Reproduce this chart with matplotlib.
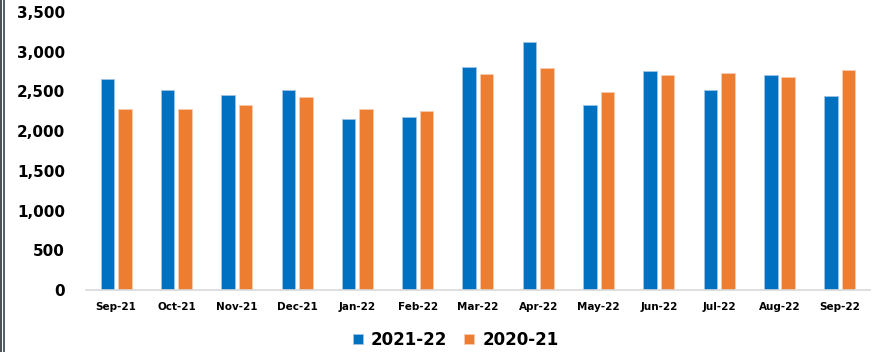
import matplotlib
matplotlib.use("Agg")
import matplotlib.pyplot as plt
import numpy as np
from matplotlib.lines import Line2D
from matplotlib.ticker import FuncFormatter

months = ["Sep-21", "Oct-21", "Nov-21", "Dec-21", "Jan-22", "Feb-22", "Mar-22",
          "Apr-22", "May-22", "Jun-22", "Jul-22", "Aug-22", "Sep-22"]
fy_2122 = [2657, 2519, 2456, 2519, 2153, 2179, 2808, 3123, 2330, 2758, 2519, 2708, 2443]
fy_2021 = [2280, 2280, 2330, 2435, 2280, 2254, 2720, 2796, 2494, 2708, 2733, 2683, 2771]
series_names = ["2021-22", "2020-21"]

BLUE = "#0070C0"
ORANGE = "#ED7D31"

fig = plt.figure(figsize=(8.73, 3.52), dpi=100)
ax = fig.add_axes([0.0985, 0.176, 0.898, 0.79])

x = np.arange(len(months))
w = 0.225
ax.bar(x - 0.145, fy_2122, width=w, color=BLUE, edgecolor="#9DC3E6",
       linewidth=0.6, label=series_names[0])
ax.bar(x + 0.145, fy_2021, width=w, color=ORANGE, edgecolor="#F8CBAD",
       linewidth=0.6, label=series_names[1])

ax.set_xlim(-0.5, len(months) - 0.5)
ax.set_ylim(0, 3500)
ax.set_yticks(range(0, 3501, 500))
ax.yaxis.set_major_formatter(FuncFormatter(lambda v, p: f"{int(v):,}"))
ax.set_xticks(x)
ax.set_xticklabels(months, fontsize=7.5, fontweight="bold")
for lab in ax.get_yticklabels():
    lab.set_fontsize(11)
    lab.set_fontweight("bold")
ax.tick_params(axis="y", length=0, pad=15)
ax.tick_params(axis="x", length=0, pad=8.5)

for s in ["top", "right", "left"]:
    ax.spines[s].set_visible(False)
ax.spines["bottom"].set_color("#D9D9D9")
ax.spines["bottom"].set_linewidth(1.2)

leg = fig.legend(loc="center", bbox_to_anchor=(0.522, 0.035), ncol=2,
                 frameon=False, handlelength=0.6, handleheight=0.6,
                 handletextpad=0.5, columnspacing=1.0,
                 prop={"weight": "bold", "size": 12})

# dark frame edge on the left
fig.add_artist(Line2D([0.001, 0.001], [0, 1], transform=fig.transFigure,
                      color="#2b2f36", linewidth=1.2))
fig.add_artist(Line2D([0.0042, 0.0042], [0, 1], transform=fig.transFigure,
                      color="#3a4250", linewidth=1.2))

plt.savefig("out.png", dpi=100)
plt.close()
